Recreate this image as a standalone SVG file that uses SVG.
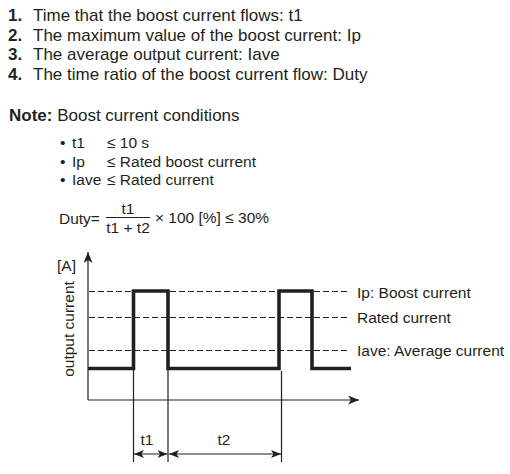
<svg xmlns="http://www.w3.org/2000/svg" width="510" height="474" viewBox="0 0 510 474">
<style>
text{font-family:"Liberation Sans",Arial,sans-serif;fill:#231f20}
.l{font-size:17px}
.s{font-size:15.5px}
.b{font-weight:bold}
.dash{stroke:#231f20;stroke-width:1;stroke-dasharray:6 3;fill:none}
.thin{stroke:#231f20;stroke-width:1.2;fill:none}
.wave{stroke:#231f20;stroke-width:3.6;fill:none;stroke-linejoin:miter;stroke-linecap:butt}
</style>
<defs>
<marker id="ah" viewBox="0 0 10 8" refX="10" refY="4" markerWidth="10" markerHeight="8" markerUnits="userSpaceOnUse" orient="auto-start-reverse">
<path d="M0,0 L10,4 L0,8 L2.5,4 z" fill="#231f20"/>
</marker>
<marker id="axh" viewBox="0 0 11 9" refX="11" refY="4.5" markerWidth="11" markerHeight="9" markerUnits="userSpaceOnUse" orient="auto">
<path d="M0,0 L11,4.5 L0,9 L3,4.5 z" fill="#231f20"/>
</marker>
</defs>
<g id="list">
<text class="l b" x="8" y="21">1.</text><text class="l" x="33" y="21">Time that the boost current flows: t1</text>
<text class="l b" x="8" y="40.5">2.</text><text class="l" x="33" y="40.5">The maximum value of the boost current: Ip</text>
<text class="l b" x="8" y="60">3.</text><text class="l" x="33" y="60">The average output current: Iave</text>
<text class="l b" x="8" y="79.5">4.</text><text class="l" x="33" y="79.5">The time ratio of the boost current flow: Duty</text>
</g>
<g id="note">
<text class="l" x="9" y="121"><tspan class="b">Note:</tspan> Boost current conditions</text>
<text class="s" x="60" y="147.5">•</text><text class="s" x="72" y="147.5">t1</text><text class="s" x="107" y="147.5">≤ 10 s</text>
<text class="s" x="60" y="166.5">•</text><text class="s" x="72" y="166.5">Ip</text><text class="s" x="107" y="166.5">≤ Rated boost current</text>
<text class="s" x="60" y="185">•</text><text class="s" x="72" y="185">Iave</text><text class="s" x="107" y="185">≤ Rated current</text>
</g>
<g id="formula">
<text class="s" x="59" y="224">Duty=</text>
<text class="s" x="128" y="214" text-anchor="middle">t1</text>
<line x1="106" y1="217.5" x2="150" y2="217.5" stroke="#231f20" stroke-width="1"/>
<text class="s" x="128" y="232.5" text-anchor="middle">t1 + t2</text>
<text class="s" x="155" y="222.5">× 100 [%] ≤ 30%</text>
</g>
<g id="chart">
<line class="dash" x1="89" y1="291.5" x2="350" y2="291.5"/>
<line class="dash" x1="89" y1="317.5" x2="350" y2="317.5"/>
<line class="dash" x1="89" y1="350.5" x2="350" y2="350.5"/>
<path class="wave" d="M88,368.5 H133.5 V291 H168 V368.5 H279 V291 H312 V368.5 H351"/>
<line class="thin" x1="88" y1="400" x2="88" y2="252" marker-end="url(#axh)"/>
<line class="thin" x1="88" y1="400" x2="359" y2="400" marker-end="url(#axh)"/>
<text class="s" x="57" y="271">[A]</text>
<text class="s" x="0" y="0" text-anchor="middle" transform="translate(73.5,329) rotate(-90)">output current</text>
<text class="s" x="357" y="297.5">Ip: Boost current</text>
<text class="s" x="357" y="323">Rated current</text>
<text class="s" x="357" y="356">Iave: Average current</text>
</g>
<g id="connectors">
<line class="thin" x1="133.5" y1="370" x2="133.5" y2="462"/>
<line class="thin" x1="168" y1="370" x2="168" y2="462"/>
<line class="thin" x1="281.5" y1="371" x2="281.5" y2="462"/>
<line class="thin" x1="134" y1="454" x2="167.5" y2="454" marker-start="url(#ah)" marker-end="url(#ah)"/>
<line class="thin" x1="169" y1="454" x2="281" y2="454" marker-start="url(#ah)" marker-end="url(#ah)"/>
<text class="s" x="147" y="445" text-anchor="middle">t1</text>
<text class="s" x="224" y="445" text-anchor="middle">t2</text>
</g>
</svg>
